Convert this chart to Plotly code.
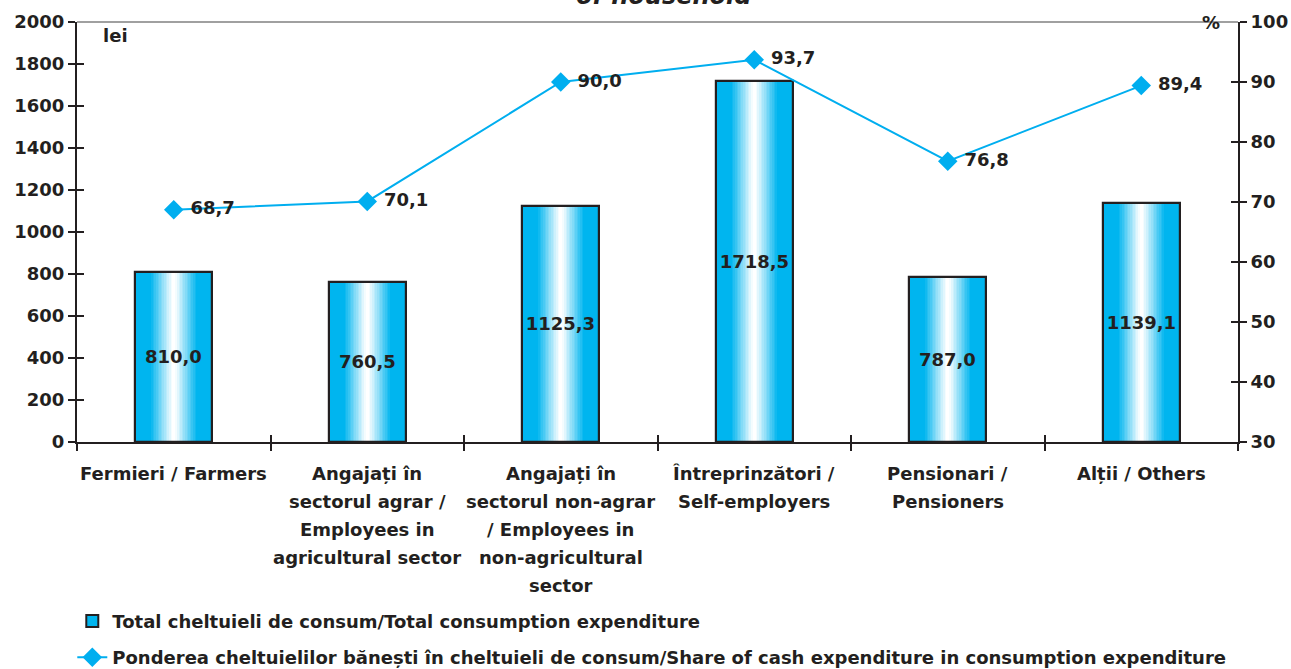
import plotly.graph_objects as go

categories = [
    "Fermieri / Farmers",
    "Angajați în<br>sectorul agrar /<br>Employees in<br>agricultural sector",
    "Angajați în<br>sectorul non-agrar<br>/ Employees in<br>non-agricultural<br>sector",
    "Întreprinzători /<br>Self-employers",
    "Pensionari /<br>Pensioners",
    "Alții / Others",
]
total_expenditure = [810.0, 760.5, 1125.3, 1718.5, 787.0, 1139.1]
cash_share = [68.7, 70.1, 90.0, 93.7, 76.8, 89.4]

bar_name = "Total cheltuieli de consum/Total consumption expenditure"
line_name = "Ponderea cheltuielilor bănești în cheltuieli de consum/Share of cash expenditure in consumption expenditure"

DARK = "#231f20"
CYAN = (0, 181, 239)
WHITE = (255, 255, 255)
FAMILY = "DejaVu Sans, Liberation Sans, Arial, sans-serif"
FONT = dict(family=FAMILY, size=18, color=DARK, weight="bold")

def fmt(v):
    return f"{v:.1f}".replace(".", ",")

fig = go.Figure()

# gradient bars: overlaid layers, cyan at the edges fading to white in the centre
BAR_W = 0.4
N = 24
for k in range(N):
    f = 1 - k / N  # fraction of half-width
    t = min(max((f - 0.06) / (0.62 - 0.06), 0), 1)
    c = tuple(round(WHITE[i] + (CYAN[i] - WHITE[i]) * t) for i in range(3))
    fig.add_trace(go.Bar(
        x=categories, y=total_expenditure, width=BAR_W * f,
        marker=dict(color=f"rgb{c}", line=dict(width=2 if k == 0 else 0, color=DARK)),
        name=bar_name, showlegend=(k == 0), legendgroup="bars",
        hoverinfo="skip" if k else "x+y",
    ))

# outline + value labels on top
fig.add_trace(go.Bar(
    x=categories, y=total_expenditure, width=BAR_W,
    marker=dict(color="rgba(0,0,0,0)", line=dict(width=2.2, color=DARK)),
    text=[fmt(v) for v in total_expenditure], textposition="inside",
    insidetextanchor="middle", textangle=0, constraintext="none",
    textfont=FONT, showlegend=False, legendgroup="bars", hoverinfo="skip",
))

fig.add_trace(go.Scatter(
    x=categories, y=cash_share, yaxis="y2", mode="lines+markers+text",
    line=dict(color="#00aeef", width=2),
    marker=dict(symbol="diamond", size=15, color="#00aeef"),
    text=["\u00a0" + fmt(v) for v in cash_share], textposition="middle right",
    textfont=FONT, name=line_name, legendgroup="line",
))

# category labels as multi-line text under the axis
annotations = []
for cat in categories:
    for i, line in enumerate(cat.split("<br>")):
        annotations.append(dict(
            x=cat, xref="x", y=0, yref="paper", yanchor="middle",
            yshift=-31 - 28 * i, text=line, showarrow=False, font=FONT,
        ))
annotations += [
    dict(x=0.0, xref="paper", y=1, yref="paper", xanchor="left", yanchor="top",
         xshift=24, yshift=-1, text="lei", showarrow=False, font=FONT),
    dict(x=1.0, xref="paper", y=1, yref="paper", xanchor="right", yanchor="middle",
         xshift=-16, yshift=0, text="%", showarrow=False, font=FONT),
    dict(x=0.5, xref="paper", y=1, yref="paper", xanchor="center", yanchor="bottom",
         xshift=6, yshift=10, text="of household", showarrow=False,
         font=dict(family=FAMILY, size=24, color=DARK, weight="bold", style="italic")),
]

tick_common = dict(showgrid=False, zeroline=False, tickwidth=2, tickcolor=DARK, automargin=False)

fig.update_layout(
    width=1291, height=669,
    margin=dict(l=77, r=53, t=22, b=227, autoexpand=False),
    paper_bgcolor="white", plot_bgcolor="white",
    barmode="overlay", bargap=0,
    font=FONT,
    xaxis=dict(type="category", showticklabels=False, ticks="outside", ticklen=7,
               tickson="boundaries", showline=True, linewidth=2, linecolor=DARK,
               range=[-0.5, 5.5], **tick_common),
    yaxis=dict(range=[0, 2000], dtick=200, ticks="outside", ticklen=7, tickfont=FONT,
               showline=True, linewidth=2, linecolor=DARK, **tick_common),
    yaxis2=dict(range=[30, 100], dtick=10, overlaying="y", side="right", anchor="x",
                ticks="outside", ticklen=7, tickfont=FONT, showline=True, linewidth=2,
                linecolor=DARK, **tick_common),
    xaxis3=dict(overlaying="x", anchor="y", range=[-0.5, 5.5], tick0=0.5, dtick=1,
                ticks="inside", ticklen=7, showticklabels=False, showline=False,
                **tick_common),
    yaxis3=dict(overlaying="y", anchor="x", side="left", range=[0, 2000], dtick=200,
                ticks="inside", ticklen=7, showticklabels=False, showline=False,
                **tick_common),
    yaxis4=dict(overlaying="y", anchor="x", side="right", range=[30, 100], dtick=10,
                ticks="inside", ticklen=7, showticklabels=False, showline=False,
                **tick_common),
    shapes=[dict(type="line", xref="paper", yref="paper", x0=0, x1=1, y0=1, y1=1,
                 line=dict(color="#a0a0a0", width=2))],
    annotations=annotations,
    legend=dict(x=0.056, y=0.099, xref="container", yref="container",
                xanchor="left", yanchor="top",
                orientation="v", tracegroupgap=10, font=FONT,
                traceorder="grouped", bgcolor="rgba(0,0,0,0)"),
    hovermode="closest",
)

# invisible traces so the cross-tick overlay axes are drawn
fig.add_trace(go.Scatter(x=[0], y=[0], xaxis="x3", yaxis="y3", mode="markers",
                         marker=dict(opacity=0), showlegend=False, hoverinfo="skip"))
fig.add_trace(go.Scatter(x=[0], y=[50], xaxis="x3", yaxis="y4", mode="markers",
                         marker=dict(opacity=0), showlegend=False, hoverinfo="skip"))

fig.write_html("out.html", config={"displayModeBar": False},
               post_script="document.body.style.margin='0';")
